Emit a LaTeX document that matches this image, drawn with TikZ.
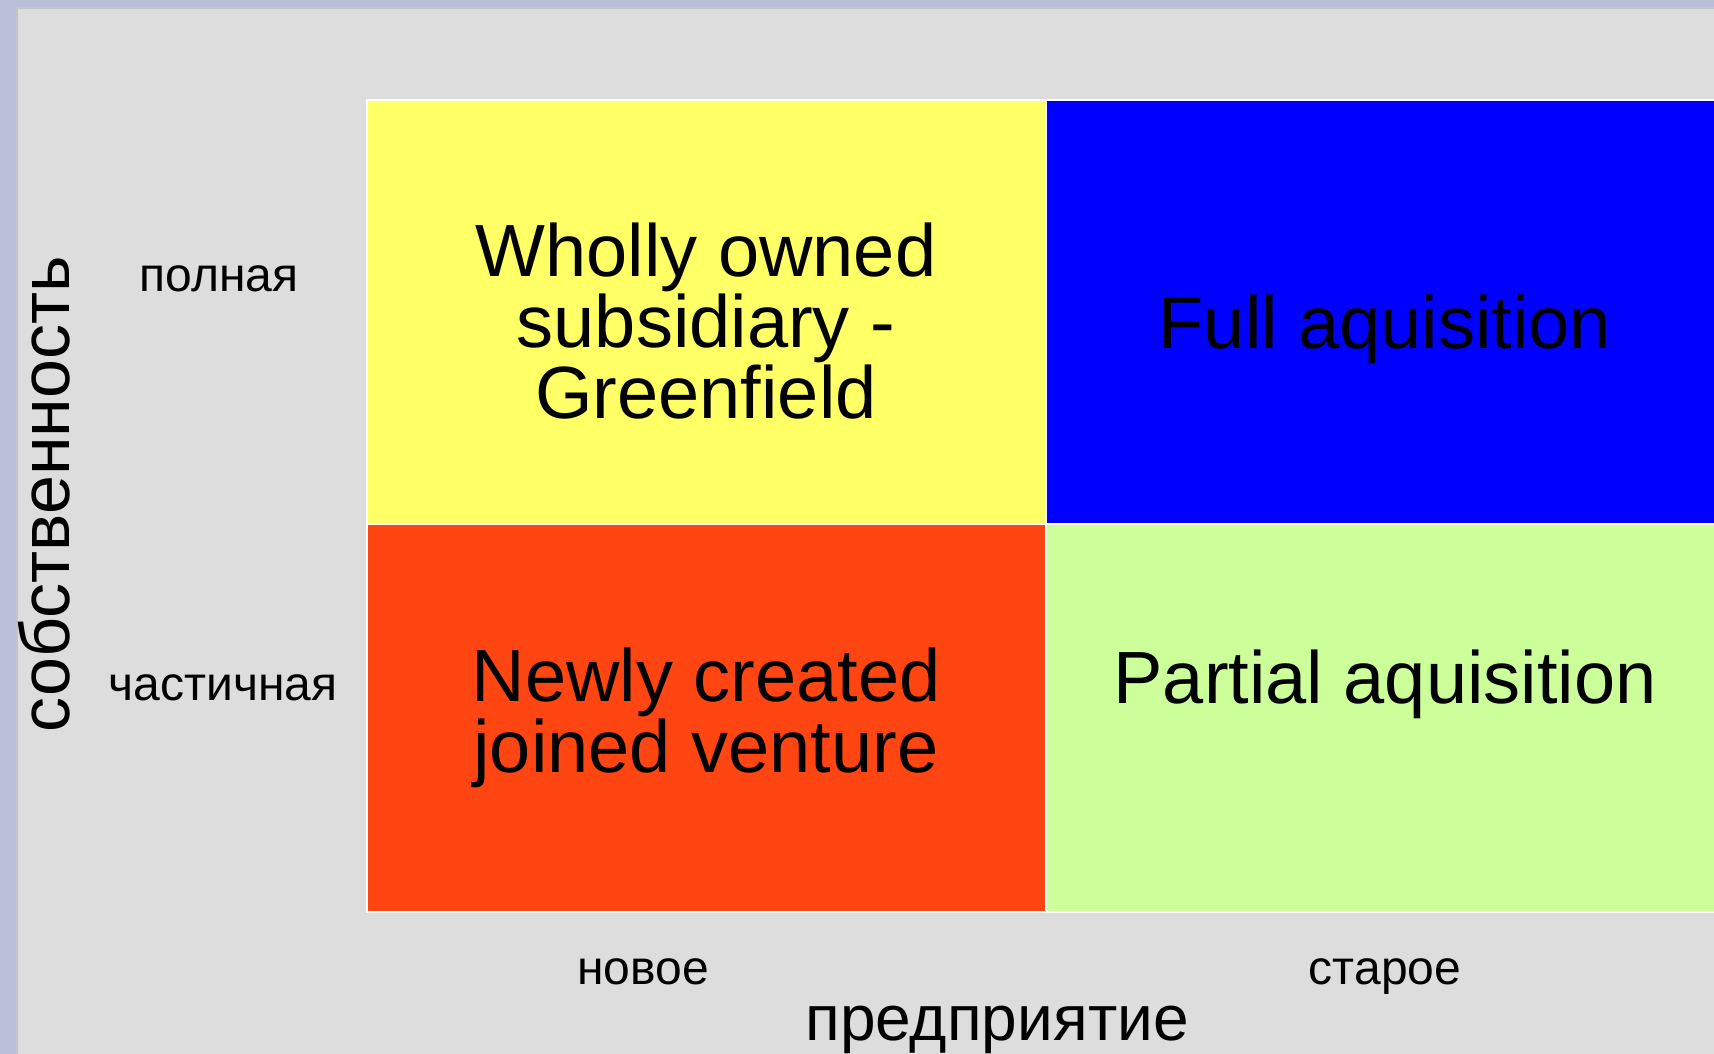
\documentclass[tikz,border=0pt]{standalone}
\usepackage{fontspec}
\setmainfont{Liberation Sans}
\usepackage{tikz}
\usetikzlibrary{positioning}

\definecolor{stripblue}{HTML}{B9BED9}
\definecolor{slidegray}{HTML}{DDDDDD}
\definecolor{edgegray}{HTML}{C4C4C4}
\definecolor{cellyellow}{HTML}{FFFF66}
\definecolor{cellblue}{HTML}{0000FF}
\definecolor{cellorange}{HTML}{FF4511}
\definecolor{cellgreen}{HTML}{CCFF99}

\tikzset{
    cell/.style={draw=white, line width=1pt},
    celltext/.style={align=center, font=\fontsize{37}{31.5}\selectfont},
    axislabel/.style={font=\fontsize{24}{28}\selectfont},
    axistitle/.style={font=\fontsize{32}{38}\selectfont},
}

\begin{document}
\begin{tikzpicture}[x=0.5pt, y=-0.5pt]
\useasboundingbox (0,0) rectangle (1714,1054);
\fill[stripblue] (0,0) rectangle (1714,1054);
\fill[slidegray] (17,8) rectangle (1714,1054);
\draw[edgegray, line width=0.8pt] (17,1054) -- (17,8) -- (1714,8);
% cells
\draw[cell, fill=cellyellow] (367,100) rectangle (1046,524);
\draw[cell, fill=cellblue] (1046,100) rectangle (1716,524);
\draw[cell, fill=cellorange] (367,524) rectangle (1046,912);
\draw[cell, fill=cellgreen] (1046,524) rectangle (1716,912);
\node[celltext] (wholly) at (706,321) {Wholly owned\\subsidiary -\\Greenfield};
\node[celltext] (full) at (1385,329) {Full aquisition};
\node[celltext] (newly) at (706,718) {Newly created\\joined venture};
\node[celltext] (partial) at (1385,684) {Partial aquisition};
% axes
\node[axislabel] (full row) at (219,279) {полная};
\node[axislabel] (part row) at (223,688) {частичная};
\node[axislabel] (new col) at (643,972) {новое};
\node[axislabel] (old col) at (1385,977) {старое};
\node[axistitle] (enterprise) at (997,1030) {предприятие};
\node[axistitle, rotate=90, font=\fontsize{35}{40}\selectfont] (ownership) at (44,494) {собственность};
\end{tikzpicture}
\end{document}
